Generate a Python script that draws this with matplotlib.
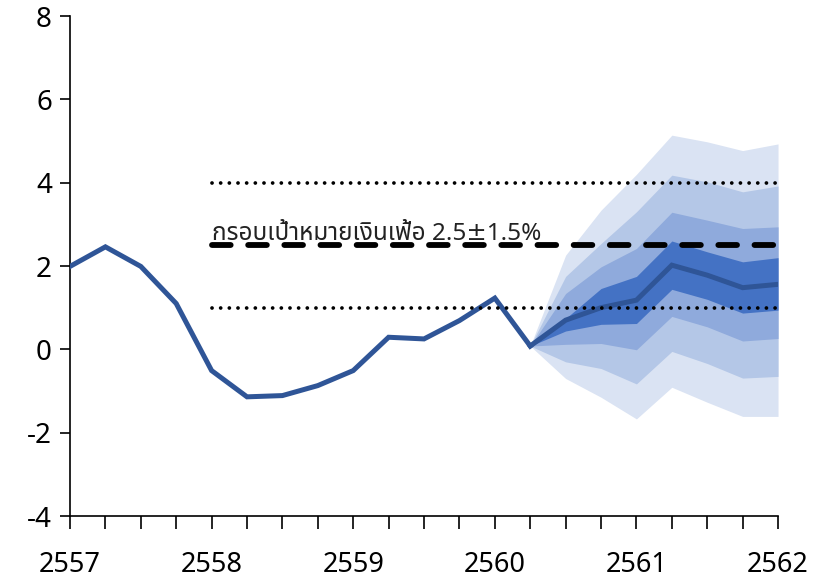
import matplotlib
matplotlib.use("Agg")
import matplotlib.pyplot as plt
import numpy as np

plt.rcParams['font.family'] = ['Noto Sans Thai', 'DejaVu Sans']

# quarters, 2557 Q1 .. 2562
quarters = 2557 + np.arange(21) / 4.0
years = [2557, 2558, 2559, 2560, 2561, 2562]

# headline inflation, actual
actual = [1.99, 2.46, 1.99, 1.10, -0.51, -1.14, -1.11, -0.87, -0.51,
          0.29, 0.25, 0.69, 1.23, 0.08]

# projection (starts at last actual point)
central = [0.08, 0.70, 1.00, 1.18, 2.02, 1.78, 1.48, 1.56]
band90_hi = [0.08, 2.26, 3.34, 4.20, 5.14, 4.98, 4.77, 4.93]
band90_lo = [0.08, -0.70, -1.15, -1.67, -0.91, -1.27, -1.61, -1.61]
band70_hi = [0.08, 1.75, 2.54, 3.30, 4.18, 4.02, 3.78, 3.92]
band70_lo = [0.08, -0.30, -0.46, -0.83, -0.05, -0.34, -0.69, -0.65]
band50_hi = [0.08, 1.34, 1.98, 2.42, 3.29, 3.10, 2.90, 2.94]
band50_lo = [0.08, 0.12, 0.14, -0.01, 0.79, 0.54, 0.20, 0.26]
band30_hi = [0.08, 0.74, 1.46, 1.75, 2.60, 2.34, 2.10, 2.20]
band30_lo = [0.08, 0.44, 0.60, 0.62, 1.44, 1.20, 0.87, 0.94]

target = 2.5
target_lo = 1.0
target_hi = 4.0
label = "กรอบเป้าหมายเงินเฟ้อ 2.5±1.5%"

x_act = quarters[:len(actual)]
x_fc = quarters[len(actual) - 1:]
x_tgt = quarters[4:]

fig = plt.figure(figsize=(8.13, 5.82), dpi=100)
ax = fig.add_axes([0.0861, 0.1134, 0.8709, 0.8591])

bands = [(band90_lo, band90_hi, '#dae3f3'),
         (band70_lo, band70_hi, '#b4c7e7'),
         (band50_lo, band50_hi, '#8faadc'),
         (band30_lo, band30_hi, '#4472c4')]
for lo, hi, c in bands:
    ax.fill_between(x_fc, lo, hi, color=c, linewidth=0, zorder=1)

ax.plot(x_act, actual, color='#2f5597', lw=3.6, solid_joinstyle='miter', zorder=3)
ax.plot(x_fc, central, color='#2f5597', lw=3.6, solid_joinstyle='miter', zorder=3)

ax.plot(x_tgt, [target_hi] * len(x_tgt), color='black', lw=2.7,
        linestyle=(0, (0.01, 2.3)), dash_capstyle='round', zorder=4)
ax.plot(x_tgt, [target_lo] * len(x_tgt), color='black', lw=2.7,
        linestyle=(0, (0.01, 2.3)), dash_capstyle='round', zorder=4)
ax.plot(x_tgt, [target] * len(x_tgt), color='black', lw=4.2,
        linestyle=(0, (3.2, 3.0)), dash_capstyle='round', zorder=4)
ax.text(x_tgt[0], target + 0.12, label, fontsize=17.5, color='#222222',
        ha='left', va='baseline', zorder=5)

ax.set_xlim(quarters[0], quarters[-1])
ax.set_ylim(-4, 8)
ax.set_yticks(np.arange(-4, 9, 2))
ax.set_yticklabels([str(v) for v in range(-4, 9, 2)])
ax.set_xticks(quarters)
ax.set_xticklabels([str(int(q)) if q in years else '' for q in quarters])

ax.tick_params(axis='y', labelsize=20, length=7, width=1.2, pad=6, direction='out')
ax.tick_params(axis='x', labelsize=19.5, length=9, width=1.2, pad=16, direction='out')
for lab in ax.get_xticklabels() + ax.get_yticklabels():
    lab.set_family('Noto Sans')
for s in ['top', 'right']:
    ax.spines[s].set_visible(False)
for s in ['left', 'bottom']:
    ax.spines[s].set_linewidth(1.2)

fig.savefig("out.png", dpi=100)
